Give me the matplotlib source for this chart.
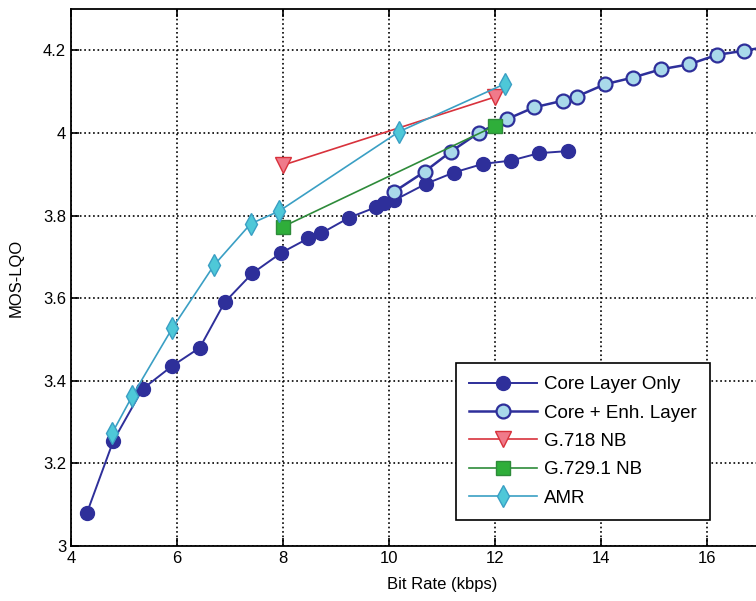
import numpy as np
import matplotlib.pyplot as plt

plt.rcParams['font.family'] = ['Liberation Sans', 'DejaVu Sans']

# Core Layer Only
core_x = [4.3, 4.8, 5.35, 5.9, 6.43, 6.9, 7.42, 7.97, 8.48, 8.72, 9.25, 9.75, 9.9, 10.1,
          10.7, 11.22, 11.77, 12.3, 12.83, 13.37]
core_y = [3.08, 3.255, 3.38, 3.435, 3.48, 3.59, 3.66, 3.71, 3.745, 3.757, 3.795, 3.82, 3.83, 3.837,
          3.877, 3.904, 3.925, 3.933, 3.951, 3.956]

# Core + Enh. Layer
enh_x = [10.1, 10.67, 11.17, 11.7, 12.22, 12.74, 13.28, 13.54, 14.08, 14.6, 15.13, 15.66, 16.19, 16.7, 17.2]
enh_y = [3.858, 3.906, 3.955, 4.001, 4.033, 4.062, 4.078, 4.088, 4.118, 4.134, 4.154, 4.166, 4.189, 4.199, 4.21]

# G.718 NB
g718_x = [8, 12]
g718_y = [3.922, 4.087]

# G.729.1 NB
g729_x = [8, 12]
g729_y = [3.773, 4.017]

# AMR
amr_x = [4.78, 5.16, 5.91, 6.7, 7.39, 7.93, 10.19, 12.19]
amr_y = [3.274, 3.364, 3.527, 3.68, 3.78, 3.811, 4.003, 4.119]

navy = '#2e2f9a'

fig = plt.figure(figsize=(7.56, 6.01), dpi=100)
# axes run past the right edge of the figure (reference is cropped)
ax = fig.add_axes([71 / 756, 55 / 601, 742 / 756, 537 / 601])

ax.plot(core_x, core_y, '-o', color=navy, lw=1.4, ms=10, mfc=navy, mec=navy,
        label='Core Layer Only')
ax.plot(enh_x, enh_y, '-o', color=navy, lw=1.8, ms=10, mfc='#a9d9ea', mec=navy, mew=1.6,
        label='Core + Enh. Layer')
ax.plot(g718_x, g718_y, '-v', color='#d8323c', lw=1.2, ms=11, mfc='#f07a8a', mec='#d8323c',
        label='G.718 NB')
ax.plot(g729_x, g729_y, '-s', color='#2e8b3a', lw=1.2, ms=10, mfc='#2fae3a', mec='#2e8b3a',
        label='G.729.1 NB')
ax.plot(amr_x, amr_y, '-d', color='#3a9fc4', lw=1.2, ms=11, mfc='#4ec8d8', mec='#3a9fc4',
        label='AMR')

ax.set_xlim(4, 18)
ax.set_ylim(3, 4.3)
ax.set_xticks(np.arange(4, 17, 2))
ax.set_yticks([3, 3.2, 3.4, 3.6, 3.8, 4, 4.2])
ax.set_yticklabels(['3', '3.2', '3.4', '3.6', '3.8', '4', '4.2'])
ax.tick_params(direction='in', length=6, width=1.2, top=True, right=True, labelsize=12)
ax.grid(True, linestyle=':', color='black', linewidth=1.2)
for s in ax.spines.values():
    s.set_linewidth(1.3)

ax.set_xlabel('Bit Rate (kbps)', fontsize=12, labelpad=8)
ax.set_ylabel('MOS-LQO', fontsize=12, labelpad=14)

leg = ax.legend(loc='upper left', bbox_to_anchor=(456 / 756, 1 - 363 / 601), bbox_transform=fig.transFigure,
                fontsize=13.5, fancybox=False, framealpha=1, edgecolor='black',
                handlelength=3.6, handletextpad=0.4, labelspacing=0.6, borderpad=0.7, borderaxespad=0)
leg.get_frame().set_linewidth(1.2)

fig.savefig('out.png', dpi=100)
